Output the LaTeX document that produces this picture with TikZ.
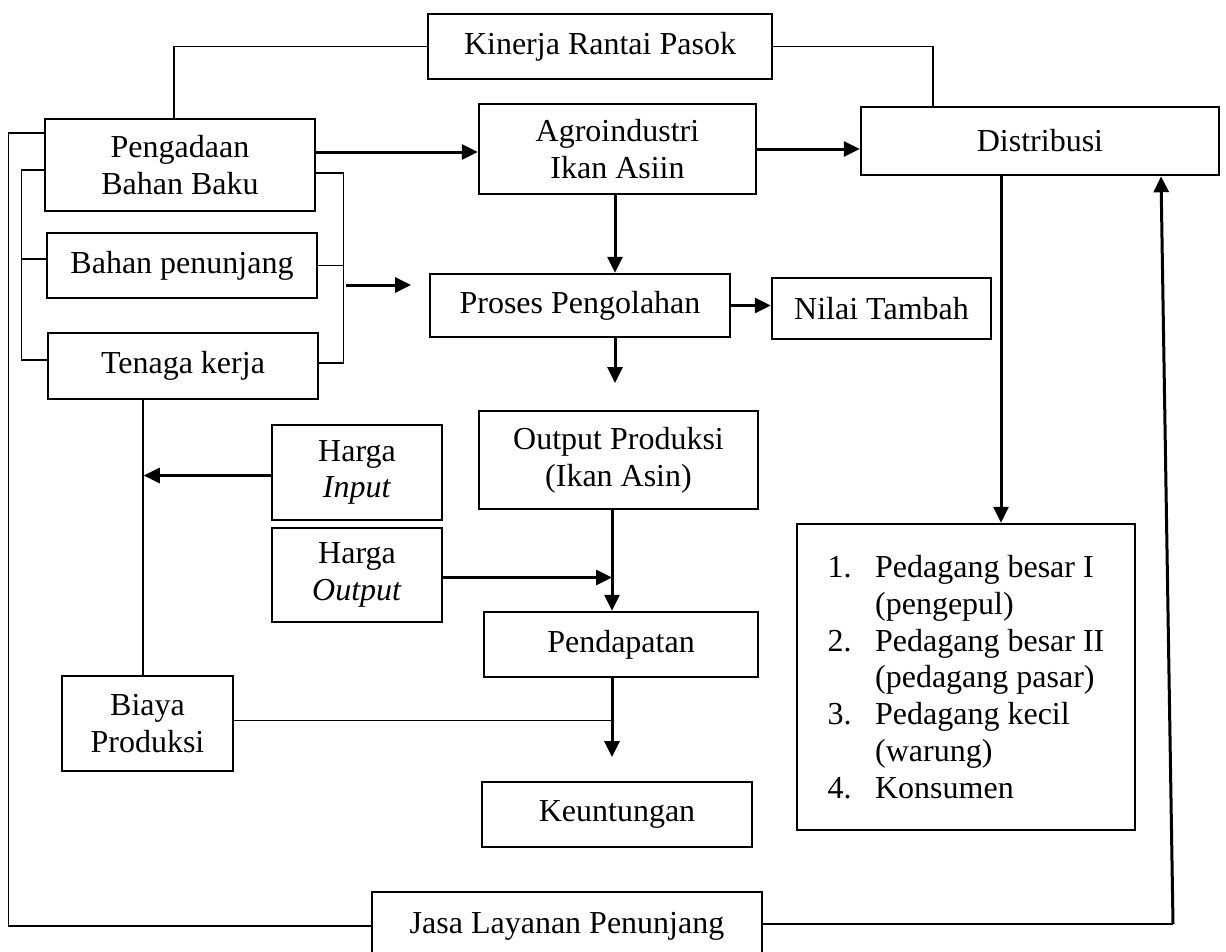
\documentclass[tikz,border=0pt]{standalone}
\usepackage{fontspec}
\setmainfont{Liberation Serif}
\usetikzlibrary{arrows.meta,calc}
\begin{document}
\begin{tikzpicture}[x=1pt,y=-1pt,
  box/.style={draw, line width=2.5pt, inner sep=0pt, align=center, font=\fontsize{32}{36.8}\selectfont},
  arr/.style={line width=3pt, -{Triangle[length=16pt,width=15pt]}},
  thinline/.style={line width=1.3pt},
  thickline/.style={line width=3pt}]
\useasboundingbox (0,0) rectangle (1226,951);
\clip (0,0) rectangle (1226,951);
\fill[white] (0,0) rectangle (1226,951);

% boxes
\node[box, minimum width=344pt, minimum height=65pt] (kin) at (600,46.5) {Kinerja Rantai Pasok};
\node[box, minimum width=270pt, minimum height=92pt] (peng) at (180,165) {Pengadaan\\Bahan Baku};
\node[box, minimum width=277pt, minimum height=90pt] (agro) at (617.5,149) {Agroindustri\\Ikan Asiin};
\node[box, minimum width=358pt, minimum height=68pt] (dist) at (1040,141) {Distribusi};
\node[box, minimum width=270pt, minimum height=65pt] (bahan) at (182,265.5) {Bahan penunjang};
\node[box, minimum width=300pt, minimum height=63pt] (proses) at (580,305.5) {Proses Pengolahan};
\node[box, minimum width=219pt, minimum height=61pt] (nilai) at (881.5,308.5) {Nilai Tambah};
\node[box, minimum width=270pt, minimum height=66pt] (tenaga) at (183,366) {Tenaga kerja};
\node[box, minimum width=170pt, minimum height=95pt] (hin) at (357,472.5) {Harga\\\textit{Input}};
\node[box, minimum width=170pt, minimum height=94pt] (hout) at (357,575) {Harga\\\textit{Output}};
\node[box, minimum width=279pt, minimum height=98pt] (outp) at (618.5,460) {Output Produksi\\(Ikan Asin)};
\node[box, minimum width=274pt, minimum height=65pt] (pend) at (621,644.5) {Pendapatan};
\node[box, minimum width=171pt, minimum height=95pt] (biaya) at (147.5,723.5) {Biaya\\Produksi};
\node[box, minimum width=270pt, minimum height=65pt] (keun) at (617,814.5) {Keuntungan};
\node[box, minimum width=338pt, minimum height=306pt, align=left, inner xsep=30.5pt] (list) at (966,677) {%
\makebox[47.5pt][l]{1.}Pedagang besar I\\
\hspace*{47.5pt}(pengepul)\\
\makebox[47.5pt][l]{2.}Pedagang besar II\\
\hspace*{47.5pt}(pedagang pasar)\\
\makebox[47.5pt][l]{3.}Pedagang kecil\\
\hspace*{47.5pt}(warung)\\
\makebox[47.5pt][l]{4.}Konsumen};
\node[box, minimum width=390pt, minimum height=68pt] (jasa) at (567,926) {Jasa Layanan Penunjang};

% Kinerja connectors
\draw[thinline] (kin.west) -| ([xshift=-6pt]peng.north);
\draw[thinline] (kin.east) -| ([xshift=-107pt]dist.north);

% main flow
\path ([yshift=13pt]peng.east) coordinate (p1);
\draw[arr] (p1) -- (p1 -| agro.west);
\draw[arr] (agro.east) -- (agro.east -| dist.west);
\path ([xshift=-2.5pt]agro.south) coordinate (a1);
\draw[arr] (a1) -- (a1 |- proses.north);
\draw[arr] (proses.east) -- (proses.east -| nilai.west);
\path ([xshift=35pt]proses.south) coordinate (pr1);
\coordinate (pr2) at (615,383);
\draw[arr] (pr1) -- (pr2);

% left brackets
\path ([yshift=32pt]peng.west) coordinate (o1);
\draw[thinline] (o1) -- ++(-35,0) |- (jasa.west);
\path ([yshift=-5pt]peng.west) coordinate (i1);
\path ([yshift=6pt]tenaga.west) coordinate (i2);
\draw[thinline] (i1) -- ++(-22.5,0) |- (i2);
\path ([yshift=6.5pt]bahan.west) coordinate (i3);
\draw[thinline] (i3) -- ++(-24.5,0);

% right brackets
\path ([yshift=-8pt]peng.east) coordinate (r1);
\path ([yshift=3pt]tenaga.east) coordinate (r2);
\draw[thinline] (r1) -- ++(27,0) |- (r2);
\draw[thinline] (bahan.east) -- ++(25,0);
\coordinate (f1) at (346,285);
\coordinate (f2) at (411,285);
\draw[arr] (f1) -- (f2);

% cost / revenue
\path ([xshift=-40pt]tenaga.south) coordinate (t1);
\draw[thinline] (t1) -- (t1 |- biaya.north);
\path ([yshift=-3pt]hin.west) coordinate (h1);
\draw[arr] (h1) -- ++(-127,0);
\path ([xshift=-6.5pt]outp.south) coordinate (o2);
\draw[arr] (o2) -- (o2 |- pend.north);
\path ([yshift=-2.5pt]hout.east) coordinate (h2);
\draw[arr] (h2) -- (h2 -| o2);
\path ([xshift=-9pt]pend.south) coordinate (p3);
\coordinate (p4) at (612,757);
\draw[arr] (p3) -- (p4);
\path ([yshift=3pt]biaya.east) coordinate (b1);
\draw[thinline] (b1) -- (b1 -| p3);

% distribution
\path ([xshift=-39pt]dist.south) coordinate (d1);
\draw[arr] (d1) -- (d1 |- list.north);
\path ([yshift=2pt]jasa.east) coordinate (j1);
\coordinate (jc) at (1173,924);
\draw[line width=1.8pt] (j1) -- (jc);
\draw[arr] (jc) -- ([xshift=121pt]dist.south);
\end{tikzpicture}
\end{document}
